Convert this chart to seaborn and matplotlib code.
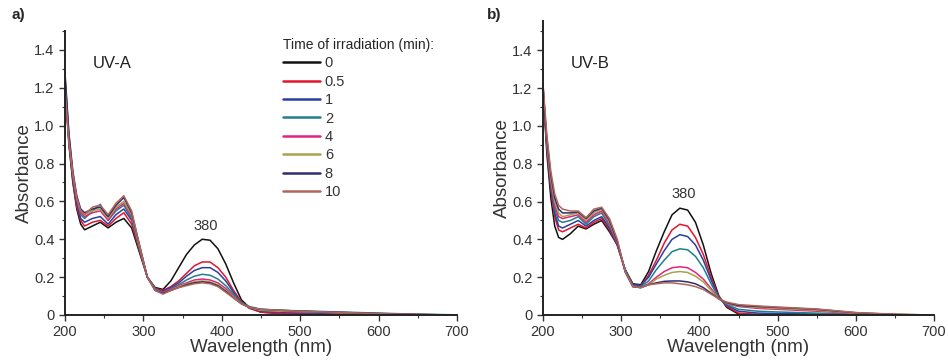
import numpy as np
import pandas as pd
import seaborn as sns
import matplotlib.pyplot as plt
from matplotlib.ticker import MultipleLocator, FuncFormatter

sns.set_style("ticks")
plt.rcParams['font.family'] = ['Liberation Sans', 'DejaVu Sans']

# wavelength grid (nm)
wl = [200, 205, 210, 215, 220, 225, 235, 245, 255, 265, 275, 285, 295, 305, 315,
      325, 335, 345, 355, 365, 375, 385, 395, 405, 415, 425, 435, 450, 475, 500,
      550, 600, 650, 700]

times = ["0", "0.5", "1", "2", "4", "6", "8", "10"]
colors = ["#111111", "#e3142c", "#2b3f9c", "#1f7f8c", "#e3237e", "#a9a24a", "#2e2d6e", "#b0665a"]

# UV-A spectra, one list per irradiation time
uva_0 = [1.20, 0.90, 0.70, 0.56, 0.48, 0.45, 0.47, 0.49, 0.46, 0.49, 0.51, 0.46, 0.33, 0.20, 0.145,
         0.135, 0.18, 0.25, 0.32, 0.37, 0.40, 0.395, 0.35, 0.27, 0.17, 0.08, 0.04, 0.015, 0.008, 0.005,
         0.003, 0.002, 0.001, 0.0]
uva_05 = [1.22, 0.91, 0.71, 0.57, 0.50, 0.47, 0.49, 0.50, 0.47, 0.51, 0.54, 0.48, 0.34, 0.20, 0.14,
          0.13, 0.15, 0.18, 0.22, 0.26, 0.28, 0.28, 0.25, 0.20, 0.13, 0.07, 0.035, 0.015, 0.008, 0.005,
          0.003, 0.002, 0.001, 0.0]
uva_1 = [1.24, 0.92, 0.72, 0.59, 0.51, 0.49, 0.51, 0.52, 0.48, 0.53, 0.56, 0.50, 0.35, 0.20, 0.14,
         0.125, 0.145, 0.17, 0.205, 0.235, 0.25, 0.25, 0.225, 0.18, 0.12, 0.065, 0.04, 0.02, 0.015, 0.012,
         0.008, 0.004, 0.002, 0.0]
uva_2 = [1.26, 0.94, 0.74, 0.61, 0.53, 0.51, 0.55, 0.585, 0.50, 0.55, 0.58, 0.51, 0.35, 0.20, 0.14,
         0.12, 0.14, 0.16, 0.185, 0.205, 0.215, 0.21, 0.19, 0.155, 0.11, 0.065, 0.045, 0.03, 0.025, 0.022,
         0.016, 0.01, 0.004, 0.001]
uva_4 = [1.22, 0.93, 0.74, 0.61, 0.54, 0.52, 0.54, 0.55, 0.50, 0.56, 0.59, 0.52, 0.36, 0.20, 0.135,
         0.12, 0.135, 0.155, 0.17, 0.185, 0.19, 0.185, 0.17, 0.14, 0.10, 0.06, 0.04, 0.025, 0.02, 0.017,
         0.012, 0.006, 0.002, 0.0]
uva_6 = [1.25, 0.95, 0.75, 0.62, 0.55, 0.53, 0.55, 0.56, 0.51, 0.57, 0.60, 0.53, 0.36, 0.20, 0.13,
         0.115, 0.13, 0.15, 0.165, 0.175, 0.18, 0.175, 0.16, 0.13, 0.095, 0.06, 0.04, 0.025, 0.02, 0.018,
         0.012, 0.006, 0.002, 0.0]
uva_8 = [1.28, 0.96, 0.76, 0.63, 0.56, 0.54, 0.56, 0.57, 0.52, 0.58, 0.62, 0.54, 0.37, 0.20, 0.13,
         0.115, 0.13, 0.145, 0.16, 0.17, 0.175, 0.17, 0.155, 0.125, 0.09, 0.06, 0.04, 0.03, 0.025, 0.02,
         0.014, 0.008, 0.003, 0.0]
uva_10 = [1.20, 0.92, 0.75, 0.62, 0.55, 0.53, 0.57, 0.58, 0.53, 0.59, 0.63, 0.55, 0.37, 0.20, 0.13,
          0.11, 0.13, 0.145, 0.155, 0.165, 0.17, 0.165, 0.15, 0.12, 0.09, 0.06, 0.04, 0.03, 0.025, 0.02,
          0.014, 0.007, 0.003, 0.0]

# UV-B spectra
uvb_0 = [1.20, 0.85, 0.62, 0.47, 0.41, 0.40, 0.43, 0.47, 0.455, 0.48, 0.50, 0.44, 0.37, 0.24, 0.165,
         0.16, 0.23, 0.34, 0.44, 0.53, 0.565, 0.555, 0.49, 0.37, 0.22, 0.10, 0.04, 0.005, 0.0, 0.0,
         0.0, 0.0, 0.0, 0.0]
uvb_05 = [1.18, 0.88, 0.66, 0.52, 0.45, 0.44, 0.46, 0.48, 0.46, 0.49, 0.51, 0.45, 0.37, 0.24, 0.16,
          0.155, 0.21, 0.29, 0.38, 0.45, 0.48, 0.47, 0.41, 0.32, 0.20, 0.095, 0.045, 0.01, 0.003, 0.002,
          0.001, 0.0, 0.0, 0.0]
uvb_1 = [1.22, 0.89, 0.68, 0.54, 0.47, 0.46, 0.48, 0.50, 0.47, 0.50, 0.52, 0.46, 0.37, 0.24, 0.16,
         0.155, 0.20, 0.27, 0.34, 0.40, 0.425, 0.415, 0.37, 0.29, 0.185, 0.09, 0.05, 0.02, 0.01, 0.008,
         0.005, 0.002, 0.0, 0.0]
uvb_2 = [1.19, 0.90, 0.70, 0.56, 0.50, 0.49, 0.50, 0.52, 0.48, 0.52, 0.54, 0.47, 0.38, 0.24, 0.155,
         0.15, 0.18, 0.24, 0.29, 0.335, 0.35, 0.345, 0.31, 0.25, 0.165, 0.09, 0.055, 0.03, 0.02, 0.016,
         0.01, 0.004, 0.001, 0.0]
uvb_4 = [1.21, 0.91, 0.71, 0.58, 0.52, 0.51, 0.52, 0.53, 0.49, 0.53, 0.55, 0.48, 0.38, 0.23, 0.15,
         0.145, 0.165, 0.20, 0.23, 0.25, 0.255, 0.25, 0.225, 0.19, 0.14, 0.085, 0.06, 0.045, 0.035, 0.03,
         0.02, 0.008, 0.002, 0.0]
uvb_6 = [1.20, 0.92, 0.72, 0.60, 0.54, 0.52, 0.53, 0.54, 0.50, 0.54, 0.56, 0.49, 0.39, 0.23, 0.15,
         0.145, 0.16, 0.19, 0.21, 0.225, 0.23, 0.225, 0.205, 0.175, 0.13, 0.085, 0.062, 0.048, 0.04, 0.035,
         0.025, 0.01, 0.003, 0.0]
uvb_8 = [1.17, 0.93, 0.74, 0.62, 0.56, 0.54, 0.54, 0.545, 0.51, 0.55, 0.565, 0.50, 0.39, 0.23, 0.15,
         0.145, 0.16, 0.17, 0.178, 0.18, 0.18, 0.175, 0.165, 0.145, 0.115, 0.085, 0.065, 0.05, 0.045, 0.04,
         0.03, 0.012, 0.003, 0.0]
uvb_10 = [1.22, 0.95, 0.76, 0.64, 0.58, 0.56, 0.55, 0.55, 0.515, 0.56, 0.57, 0.51, 0.40, 0.23, 0.15,
          0.145, 0.16, 0.165, 0.17, 0.17, 0.165, 0.16, 0.15, 0.135, 0.11, 0.085, 0.068, 0.055, 0.048, 0.042,
          0.032, 0.013, 0.004, 0.0]

uva = [uva_0, uva_05, uva_1, uva_2, uva_4, uva_6, uva_8, uva_10]
uvb = [uvb_0, uvb_05, uvb_1, uvb_2, uvb_4, uvb_6, uvb_8, uvb_10]


def to_df(series):
    rows = []
    for t, vals in zip(times, series):
        for w, a in zip(wl, vals):
            rows.append((w, a, t))
    return pd.DataFrame(rows, columns=["wl", "abs", "time"])


palette = dict(zip(times, colors))

fig = plt.figure(figsize=(9.48, 3.63), dpi=100)
axa = fig.add_axes([65 / 948, 1 - 315 / 363, 392 / 948, 284 / 363])
axb = fig.add_axes([543 / 948, 1 - 315 / 363, 391 / 948, 294 / 363])

for ax, series, ytop, name, ylab380 in [(axa, uva, 1.5, "UV-A", 0.47), (axb, uvb, 1.555, "UV-B", 0.64)]:
    df = to_df(series)
    sns.lineplot(data=df, x="wl", y="abs", hue="time", hue_order=times, palette=palette,
                 linewidth=1.1, ax=ax, legend=(ax is axa), sort=False)
    ax.set_xlim(200, 700)
    ax.set_ylim(0, ytop)
    ax.xaxis.set_major_locator(MultipleLocator(100))
    ax.xaxis.set_minor_locator(MultipleLocator(50))
    ax.yaxis.set_major_locator(MultipleLocator(0.2))
    ax.yaxis.set_minor_locator(MultipleLocator(0.1))
    ax.yaxis.set_major_formatter(FuncFormatter(lambda v, p: "0" if abs(v) < 1e-9 else f"{v:.1f}"))
    ax.tick_params(which="major", length=4, width=1, labelsize=10.5, colors="#333333", labelcolor="#333333")
    ax.tick_params(which="minor", length=2.5, width=0.8, colors="#333333")
    for s in ["top", "right"]:
        ax.spines[s].set_visible(False)
    for s in ["left", "bottom"]:
        ax.spines[s].set_linewidth(1.4)
        ax.spines[s].set_color("#222222")
    ax.set_xlabel("Wavelength (nm)", fontsize=13.5, color="#333333", labelpad=0)
    ax.set_ylabel("Absorbance", fontsize=13.5, color="#333333", labelpad=1)
    ax.text(235, 1.33, name, fontsize=12, color="#222222", va="center")
    ax.text(380, ylab380, "380", fontsize=10.5, color="#333333", ha="center", va="center")

leg = axa.legend(title="Time of irradiation (min):", loc="upper left", bbox_to_anchor=(0.555, 0.975),
                 frameon=False, fontsize=10.5, title_fontsize=10, handlelength=2.6,
                 handletextpad=0.3, labelspacing=0.3, borderaxespad=0, borderpad=0)
leg._legend_box.align = "left"
for line in leg.get_lines():
    line.set_linewidth(1.8)
for txt in leg.get_texts():
    txt.set_color("#333333")

fig.text(12 / 948, 1 - 15 / 363, "a)", fontsize=11, fontweight="bold", va="center")
fig.text(487 / 948, 1 - 15 / 363, "b)", fontsize=11, fontweight="bold", va="center")

fig.savefig("out.png", dpi=100, facecolor="white")
